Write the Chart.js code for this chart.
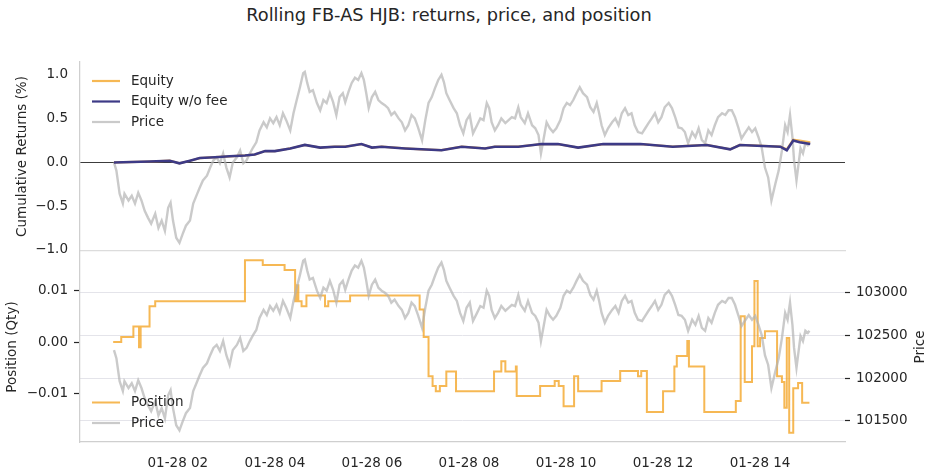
<!DOCTYPE html>
<html lang="en">

<head>
    <meta charset="UTF-8">
    <title>Rolling FB-AS HJB: returns, price, and position</title>
    <script src="https://cdn.jsdelivr.net/npm/chart.js"></script>
    <style>
        body {
            margin: 0;
            padding: 0;
            background-color: #ffffff;
            font-family: 'DejaVu Sans', sans-serif;
        }

        .figure {
            position: relative;
            width: 931px;
            height: 472px;
            overflow: hidden;
        }

        h1 {
            position: absolute;
            top: 4px;
            left: 0;
            width: 898px;
            margin: 0;
            font-size: 17.8px;
            font-weight: normal;
            line-height: 22px;
            text-align: center;
            color: #262626;
        }

        .panel {
            position: absolute;
            left: 0;
            width: 931px;
        }

        #topPanel { top: 0; height: 272px; }
        #bottomPanel { top: 232px; height: 240px; }
    </style>
</head>

<body>
    <div class="figure">
        <h1>Rolling FB-AS HJB: returns, price, and position</h1>
        <div class="panel" id="topPanel"><canvas id="returnsChart"></canvas></div>
        <div class="panel" id="bottomPanel"><canvas id="positionChart"></canvas></div>
    </div>

    <script>
        // tick labels
        const xTickHours = [2, 4, 6, 8, 10, 12, 14];
        const returnTicks = [-1, -0.5, 0, 0.5, 1];
        const positionTicks = [-0.01, 0, 0.01];
        const priceTicks = [101500, 102000, 102500, 103000];

        // price, minutes after 01-28 00:00
        const priceMinutes = [
            41, 44, 48, 52, 54, 59, 63, 67, 71, 75,
            79, 83, 87, 92, 96, 100, 104, 108, 111, 114,
            118, 122, 126, 130, 135, 139, 144, 147, 151, 156,
            160, 164, 168, 172, 176, 180, 184, 188, 193, 197,
            201, 205, 209, 213, 217, 221, 226, 230, 234, 238,
            242, 246, 250, 254, 259, 263, 267, 271, 275, 277,
            280, 283, 287, 292, 296, 300, 304, 308, 312, 316,
            320, 324, 327, 331, 335, 339, 343, 347, 350, 353,
            356, 360, 364, 368, 372, 376, 380, 384, 388, 393,
            397, 401, 405, 409, 413, 417, 422, 426, 430, 434,
            438, 442, 446, 449, 452, 456, 461, 465, 469, 473,
            477, 481, 485, 490, 494, 498, 502, 505, 508, 512,
            516, 520, 525, 529, 533, 537, 541, 544, 549, 553,
            558, 562, 566, 569, 572, 576, 580, 584, 588, 593,
            597, 601, 605, 609, 613, 617, 621, 626, 630, 634,
            638, 641, 644, 648, 652, 657, 661, 665, 669, 673,
            677, 681, 685, 689, 694, 698, 702, 706, 710, 714,
            718, 722, 727, 731, 735, 739, 743, 747, 751, 756,
            760, 764, 768, 772, 776, 780, 784, 788, 793, 797,
            801, 805, 809, 813, 817, 821, 826, 830, 834, 838,
            842, 846, 850, 854, 859, 863, 867, 871, 874, 877,
            880, 882, 885, 887, 890, 893, 896, 899, 901
        ];
        const priceValues = [
            102330, 102235, 101965, 101850, 101965, 101885, 101940, 101850, 101975, 101885,
            101765, 101685, 101615, 101730, 101565, 101650, 101530, 101800, 101860, 101650,
            101450, 101390, 101495, 101590, 101650, 101850, 101965, 102035, 102120, 102175,
            102270, 102355, 102390, 102320, 102435, 102270, 102155, 102330, 102390, 102470,
            102320, 102355, 102435, 102505, 102565, 102705, 102800, 102740, 102845, 102790,
            102860, 102765, 102905, 102825, 102705, 102905, 103060, 103210, 103375, 103390,
            103260, 103155, 103175, 103025, 102940, 103060, 103025, 103140, 103035, 102885,
            103095, 103140, 103035, 103155, 103260, 103320, 103295, 103375, 103295, 103140,
            102965, 103095, 103155, 103060, 103025, 103000, 102965, 102885, 102920, 102845,
            102800, 102705, 102765, 102885, 102845, 102740, 102590, 102825, 103025, 103095,
            103200, 103295, 103355, 103270, 103140, 103060, 102965, 102905, 102765, 102670,
            102825, 102885, 102670, 102765, 102845, 102825, 103025, 102965, 102800, 102705,
            102765, 102845, 102790, 102825, 102860, 102845, 102975, 102860, 102790, 102905,
            102765, 102730, 102650, 102435, 102590, 102800, 102730, 102685, 102730, 102825,
            102965, 103025, 103000, 103060, 103140, 103210, 103140, 103095, 102975, 102920,
            103025, 102905, 102765, 102650, 102730, 102800, 102845, 102765, 102905, 102965,
            102885, 102905, 102765, 102685, 102670, 102730, 102790, 102845, 102905, 102800,
            102860, 102975, 103025, 102965, 102860, 102740, 102730, 102685, 102555, 102685,
            102625, 102730, 102590, 102555, 102705, 102650, 102765, 102860, 102905, 102885,
            102940, 102940, 102860, 102740, 102610, 102670, 102740, 102685, 102730, 102625,
            102505, 102270, 102155, 101885, 102085, 102235, 102470, 102765, 102685, 102885,
            102625, 102355, 102120, 102270, 102495, 102435, 102555, 102530, 102555
        ];

        // cumulative returns (%)
        const equityMinutes = [41, 85, 110, 122, 135, 147, 166, 184, 203, 215, 228, 240, 259, 277, 296, 314, 327, 347, 360, 372,
            401, 421, 446, 471, 500, 512, 541, 570, 590, 615, 646, 692, 732, 774, 803, 815, 865, 873, 881, 889, 902];
        const equityNoFeeValues = [0.00, 0.01, 0.02, -0.01, 0.02, 0.05, 0.06, 0.07, 0.08, 0.09, 0.13, 0.13, 0.16, 0.20, 0.17, 0.18, 0.18, 0.21, 0.17, 0.18,
            0.16, 0.15, 0.14, 0.18, 0.16, 0.18, 0.18, 0.21, 0.21, 0.17, 0.21, 0.21, 0.18, 0.20, 0.15, 0.20, 0.18, 0.14, 0.25, 0.23, 0.21];
        const equityValues = [0.00, 0.01, 0.02, -0.01, 0.02, 0.05, 0.06, 0.07, 0.08, 0.09, 0.13, 0.13, 0.16, 0.20, 0.17, 0.18, 0.18, 0.21, 0.17, 0.18,
            0.16, 0.15, 0.14, 0.18, 0.16, 0.18, 0.18, 0.21, 0.21, 0.17, 0.21, 0.21, 0.18, 0.20, 0.15, 0.20, 0.18, 0.15, 0.26, 0.25, 0.23];

        // position (Qty), value holds from each time until the next
        const positionMinutes = [40, 50, 65, 72, 74, 85, 92, 203, 225, 252, 265, 267, 269, 273, 279, 302, 306, 333, 419, 424,
            430, 435, 439, 444, 452, 464, 511, 520, 525, 538, 539, 568, 586, 591, 597, 610, 615, 644, 667, 689,
            693, 700, 720, 734, 737, 750, 752, 771, 810, 816, 821, 830, 833, 837, 840, 846, 861, 867, 870, 873,
            876, 881, 887, 892, 901];
        const positionValues = [0, 0.001, 0.003, -0.001, 0.003, 0.0069, 0.0079, 0.0158, 0.0149, 0.0139, 0.0079, 0.011, 0.0079, 0.0069, 0.009, 0.0069, 0.0079, 0.009, 0.0063, 0.001,
            -0.0066, -0.0085, -0.0095, -0.0085, -0.0057, -0.0095, -0.0057, -0.0037, -0.0057, -0.0047, -0.0104, -0.0085, -0.0075, -0.0085, -0.0124, -0.0066, -0.0095, -0.0075, -0.0056, -0.0066,
            -0.0056, -0.0135, -0.0095, -0.0047, -0.0027, 0.0002, -0.0047, -0.0135, -0.0114, 0.005, -0.0077, -0.0008, 0.0118, -0.0008, 0.0008, 0.0021, -0.0066, -0.0077, -0.0127, 0.0008,
            -0.0175, -0.0089, -0.0079, -0.0117, -0.0117];

        const TEXT = '#262626';
        const SPINE = '#cfcfcf';
        const GRID = '#e4e4ea';
        const ORANGE = 'rgba(243, 156, 18, 0.72)';
        const NAVY = '#3d3a86';
        const GREY = 'rgba(180, 180, 180, 0.7)';
        const FONT = { family: 'DejaVu Sans', size: 13.5 };

        const toPoints = (xs, ys) => xs.map((x, i) => ({ x: x, y: ys[i] }));
        const fmt = (v, d) => (v < 0 ? '\u2212' : '') + Math.abs(v).toFixed(d);
        const basePrice = priceValues[0];
        const priceReturns = priceValues.map(p => (p / basePrice - 1) * 100);

        // legend with line handles and rotated right axis title
        function decor(cfg) {
            return {
                id: 'decor',
                afterDraw(chart) {
                    const { ctx, chartArea } = chart;
                    const rowH = 20.5;
                    const n = cfg.legend.length;
                    let y = cfg.anchor === 'bottom'
                        ? chartArea.bottom - cfg.offset - (n - 1) * rowH
                        : chartArea.top + cfg.offset;
                    ctx.save();
                    ctx.font = FONT.size + 'px "DejaVu Sans"';
                    ctx.textBaseline = 'middle';
                    cfg.legend.forEach(i => {
                        const ds = chart.data.datasets[i];
                        ctx.strokeStyle = ds.borderColor;
                        ctx.lineWidth = Math.min(ds.borderWidth, 2.2);
                        ctx.beginPath();
                        ctx.moveTo(chartArea.left + 12, y);
                        ctx.lineTo(chartArea.left + 40, y);
                        ctx.stroke();
                        ctx.fillStyle = TEXT;
                        ctx.fillText(ds.label, chartArea.left + 51, y);
                        y += rowH;
                    });
                    if (cfg.rightTitle) {
                        ctx.translate(cfg.rightTitle.x, (chartArea.top + chartArea.bottom) / 2);
                        ctx.rotate(-Math.PI / 2);
                        ctx.textAlign = 'center';
                        ctx.fillText(cfg.rightTitle.text, 0, 0);
                    }
                    ctx.restore();
                }
            };
        }

        function timeScale(showLabels) {
            return {
                type: 'linear',
                min: -1,
                max: 945,
                afterBuildTicks: s => { s.ticks = xTickHours.map(h => ({ value: h * 60 })); },
                grid: { display: false, drawTicks: false },
                border: { display: true, color: showLabels ? SPINE : '#dcdcdc', width: 1.25 },
                ticks: {
                    display: showLabels,
                    autoSkip: false,
                    maxRotation: 0,
                    padding: 13,
                    color: TEXT,
                    font: FONT,
                    callback: v => '01-28 ' + String(Math.round(v / 60)).padStart(2, '0')
                },
                afterFit: s => { s.height = showLabels ? 30 : 0; }
            };
        }

        // Top panel: cumulative returns
        new Chart(document.getElementById('returnsChart'), {
            type: 'line',
            data: {
                datasets: [
                    { label: 'Equity', data: toPoints(equityMinutes, equityValues), borderColor: ORANGE, borderWidth: 2.2, order: 1 },
                    { label: 'Equity w/o fee', data: toPoints(equityMinutes, equityNoFeeValues), borderColor: NAVY, borderWidth: 2.6, order: 0 },
                    { label: 'Price', data: toPoints(priceMinutes, priceReturns), borderColor: GREY, borderWidth: 2.4, order: 2 }
                ]
            },
            options: {
                responsive: true,
                maintainAspectRatio: false,
                animation: false,
                layout: { padding: { top: 62, bottom: 21, left: 0, right: 86 } },
                elements: { point: { radius: 0 }, line: { tension: 0 } },
                scales: {
                    x: timeScale(false),
                    y: {
                        min: -1.012,
                        max: 1.148,
                        afterBuildTicks: s => { s.ticks = returnTicks.map(v => ({ value: v })); },
                        afterFit: s => { s.width = 80; },
                        grid: {
                            color: c => (c.tick && c.tick.value === 0 ? '#3c3c3c' : 'rgba(0,0,0,0)'),
                            lineWidth: 1.1,
                            drawTicks: false
                        },
                        border: { color: SPINE, width: 1.25 },
                        ticks: { padding: 12, color: TEXT, font: FONT, callback: v => fmt(v, 1) },
                        title: { display: true, text: 'Cumulative Returns (%)', color: TEXT, font: FONT, padding: { top: 14, bottom: 0 } }
                    }
                },
                plugins: { legend: { display: false }, tooltip: { enabled: false } }
            },
            plugins: [decor({ legend: [0, 1, 2], anchor: 'top', offset: 19 })]
        });

        // Bottom panel: position and price
        new Chart(document.getElementById('positionChart'), {
            type: 'line',
            data: {
                datasets: [
                    { label: 'Position', data: toPoints(positionMinutes, positionValues), borderColor: ORANGE, borderWidth: 2, stepped: 'before', yAxisID: 'y', order: 1 },
                    { label: 'Price', data: toPoints(priceMinutes, priceValues), borderColor: GREY, borderWidth: 2.4, yAxisID: 'y1', order: 0 }
                ]
            },
            options: {
                responsive: true,
                maintainAspectRatio: false,
                animation: false,
                layout: { padding: { top: 20, bottom: 0, left: 0, right: 0 } },
                elements: { point: { radius: 0 }, line: { tension: 0 } },
                scales: {
                    x: timeScale(true),
                    y: {
                        position: 'left',
                        min: -0.0193,
                        max: 0.0174,
                        afterBuildTicks: s => { s.ticks = positionTicks.map(v => ({ value: v })); },
                        afterFit: s => { s.width = 80; },
                        grid: { drawOnChartArea: false, drawTicks: true, tickLength: 6, tickColor: TEXT, tickWidth: 1.2 },
                        border: { color: SPINE, width: 1.25 },
                        ticks: { padding: 6, color: TEXT, font: FONT, callback: v => fmt(v, 2) },
                        title: { display: true, text: 'Position (Qty)', color: TEXT, font: FONT, padding: { top: 4, bottom: 0 } }
                    },
                    y1: {
                        position: 'right',
                        min: 101253,
                        max: 103478,
                        afterBuildTicks: s => { s.ticks = priceTicks.map(v => ({ value: v })); },
                        afterFit: s => { s.width = 86; },
                        grid: { color: GRID, lineWidth: 1, drawTicks: true, tickLength: 5, tickColor: TEXT, tickWidth: 1.2 },
                        border: { display: false },
                        ticks: { padding: 6, color: TEXT, font: FONT, callback: v => String(v) }
                    }
                },
                plugins: { legend: { display: false }, tooltip: { enabled: false } }
            },
            plugins: [decor({ legend: [0, 1], anchor: 'bottom', offset: 19, rightTitle: { text: 'Price', x: 920.5 } })]
        });
    </script>
</body>

</html>
